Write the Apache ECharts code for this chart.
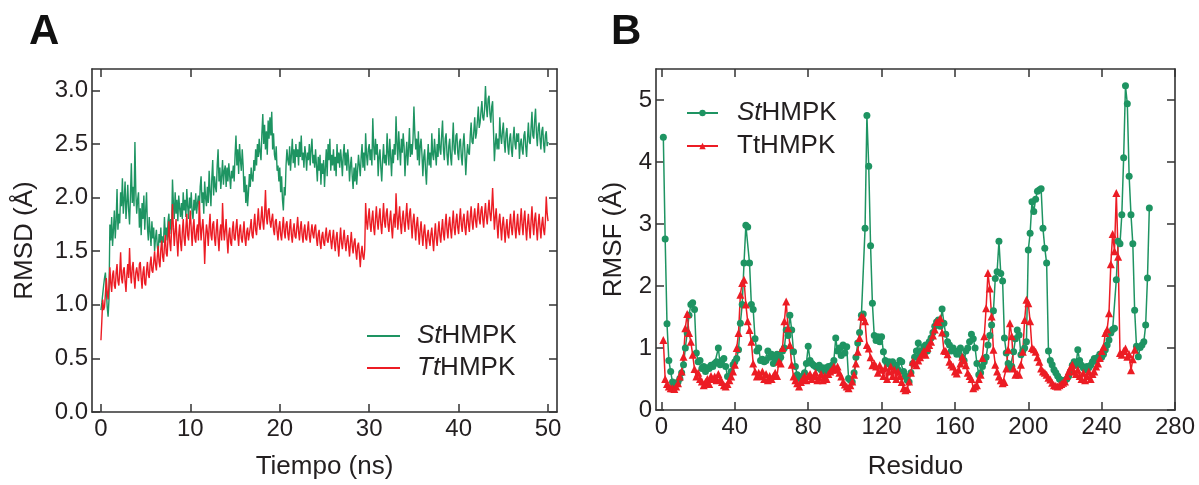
<!DOCTYPE html>
<html>
<head>
<meta charset="utf-8">
<script src="https://cdn.jsdelivr.net/npm/echarts@6/dist/echarts.min.js"></script>
<style>
html,body{margin:0;padding:0;background:#fff;}
#chart{width:1199px;height:485px;}
</style>
</head>
<body>
<div id="chart"></div>
<script>
// ---------- Panel A: RMSD vs time (sampled every 0.1 ns) ----------
const rmsdTimeStep = 0.1;
const rmsdSt = [
0.95,1.02,1.10,1.18,1.25,1.30,1.15,0.98,0.89,1.05,
1.75,1.60,1.82,1.55,1.70,1.88,1.62,1.78,2.08,1.70,
1.85,1.76,2.05,1.92,2.18,1.85,1.98,2.15,1.80,1.95,
2.12,1.88,1.75,2.02,2.32,1.95,2.10,1.92,2.52,2.05,
1.85,1.98,2.05,1.72,1.90,1.65,1.95,1.80,2.02,1.70,
1.88,2.05,1.72,1.60,1.82,1.68,1.55,1.78,1.62,1.72,
1.50,1.62,1.70,1.55,1.48,1.66,1.58,1.72,1.52,1.64,
1.58,1.82,1.65,1.72,1.60,1.78,1.85,1.66,1.80,1.70,
2.17,1.95,1.80,2.05,1.85,1.98,1.78,2.02,1.90,1.82,
1.95,1.80,2.05,1.88,1.98,1.82,2.08,1.92,1.80,2.00,
1.90,2.05,1.85,1.80,1.98,1.88,2.04,1.85,1.95,2.02,
1.88,2.10,2.20,1.95,2.05,1.85,2.15,2.00,1.92,2.10,
1.95,2.25,2.05,1.92,2.18,2.35,2.02,2.20,2.10,2.05,
2.30,2.45,2.15,2.28,2.08,2.20,2.35,2.12,2.25,2.30,
2.10,2.28,2.15,2.32,2.20,2.08,2.25,2.18,2.30,2.15,
2.40,2.58,2.30,2.45,2.22,2.50,2.35,2.25,2.45,2.30,
2.05,2.20,1.95,2.12,1.92,2.05,2.22,2.10,2.28,2.18,
2.15,2.35,2.25,2.45,2.30,2.50,2.38,2.55,2.42,2.35,
2.60,2.78,2.50,2.68,2.45,2.62,2.40,2.72,2.55,2.75,
2.58,2.80,2.45,2.60,2.40,2.35,2.48,2.25,2.30,2.15,
2.28,2.05,2.20,1.98,1.88,2.10,2.02,2.30,2.45,2.35,
2.30,2.48,2.25,2.40,2.55,2.32,2.45,2.28,2.50,2.38,
2.45,2.30,2.52,2.38,2.58,2.35,2.42,2.28,2.48,2.40,
2.25,2.42,2.35,2.50,2.30,2.45,2.55,2.32,2.40,2.28,
2.45,2.30,2.15,2.38,2.25,2.40,2.12,2.32,2.22,2.35,
2.10,2.28,2.45,2.20,2.50,2.35,2.55,2.25,2.40,2.30,
2.45,2.25,2.38,2.20,2.50,2.32,2.42,2.28,2.45,2.35,
2.20,2.40,2.50,2.30,2.42,2.25,2.45,2.35,2.15,2.30,
2.38,2.20,2.08,2.28,2.15,2.32,2.12,2.25,2.40,2.30,
2.20,2.38,2.50,2.28,2.42,2.25,2.60,2.40,2.30,2.45,
2.50,2.35,2.45,2.30,2.74,2.48,2.35,2.55,2.40,2.50,
2.20,2.38,2.45,2.28,2.15,2.35,2.50,2.32,2.40,2.30,
2.60,2.42,2.30,2.55,2.38,2.20,2.45,2.32,2.50,2.40,
2.76,2.50,2.35,2.62,2.45,2.30,2.55,2.42,2.60,2.48,
2.20,2.40,2.52,2.30,2.45,2.65,2.38,2.50,2.40,2.55,
2.85,2.60,2.45,2.55,2.35,2.62,2.30,2.48,2.55,2.40,
2.20,2.38,2.45,2.25,2.12,2.35,2.50,2.30,2.42,2.28,
2.60,2.40,2.35,2.55,2.42,2.30,2.50,2.38,2.65,2.45,
2.40,2.58,2.72,2.45,2.35,2.55,2.60,2.40,2.30,2.48,
2.55,2.38,2.30,2.50,2.70,2.45,2.40,2.58,2.60,2.42,
2.35,2.52,2.55,2.38,2.30,2.50,2.60,2.42,2.21,2.38,
2.50,2.42,2.40,2.58,2.70,2.52,2.50,2.62,2.75,2.55,
2.60,2.72,2.85,2.65,2.70,2.80,2.90,2.75,2.72,2.82,
3.04,2.85,2.75,2.92,2.95,2.78,2.70,2.85,2.90,2.62,
2.34,2.50,2.60,2.45,2.55,2.45,2.75,2.58,2.50,2.62,
2.70,2.52,2.42,2.60,2.65,2.48,2.40,2.55,2.60,2.45,
2.38,2.55,2.66,2.50,2.45,2.60,2.52,2.60,2.36,2.50,
2.55,2.45,2.40,2.58,2.62,2.48,2.38,2.55,2.70,2.52,
2.50,2.65,2.80,2.58,2.55,2.72,2.83,2.60,2.48,2.65,
2.70,2.55,2.45,2.62,2.66,2.50,2.42,2.58,2.62,2.48,
2.52
];
const rmsdTt = [
0.67,0.85,1.05,0.95,0.98,1.10,1.25,1.12,1.05,1.18,
1.35,1.20,1.12,1.28,1.32,1.18,1.15,1.30,1.38,1.22,
1.18,1.30,1.49,1.25,1.20,1.32,1.35,1.22,1.12,1.28,
1.38,1.25,1.53,1.30,1.20,1.35,1.40,1.25,1.15,1.30,
1.35,1.28,1.22,1.38,1.40,1.25,1.15,1.30,1.36,1.20,
1.18,1.32,1.40,1.28,1.25,1.38,1.45,1.32,1.30,1.40,
1.50,1.38,1.32,1.45,1.55,1.40,1.35,1.52,1.60,1.45,
1.40,1.55,1.65,1.48,1.45,1.62,1.78,1.58,1.50,1.70,
1.94,1.72,1.55,1.68,1.80,1.60,1.45,1.65,1.75,1.58,
1.50,1.68,1.80,1.62,1.55,1.72,1.85,1.65,1.60,1.75,
1.88,1.70,1.55,1.72,1.80,1.62,1.58,1.70,1.75,1.60,
1.97,1.75,1.60,1.72,1.80,1.65,1.38,1.62,1.75,1.68,
1.55,1.72,1.85,1.65,1.60,1.75,1.78,1.62,1.55,1.70,
1.80,1.62,1.50,1.68,1.75,1.60,1.95,1.72,1.60,1.70,
1.80,1.62,1.48,1.65,1.72,1.58,1.55,1.70,1.78,1.62,
1.60,1.72,1.80,1.65,1.55,1.70,1.75,1.62,1.58,1.68,
1.78,1.62,1.55,1.68,1.72,1.60,1.60,1.72,1.80,1.65,
1.62,1.75,1.85,1.70,1.65,1.78,1.90,1.75,1.70,1.80,
1.92,1.78,1.70,1.85,2.07,1.82,1.75,1.88,1.90,1.78,
1.72,1.80,1.85,1.70,1.65,1.78,1.80,1.68,1.60,1.72,
1.78,1.65,1.60,1.72,1.82,1.68,1.62,1.75,1.78,1.66,
1.60,1.72,1.80,1.65,1.58,1.70,1.76,1.64,1.62,1.72,
1.82,1.68,1.60,1.72,1.78,1.65,1.58,1.70,1.75,1.62,
1.60,1.70,1.78,1.65,1.58,1.68,1.75,1.66,1.62,1.72,
1.75,1.62,1.55,1.66,1.70,1.58,1.52,1.64,1.68,1.58,
1.55,1.65,1.72,1.60,1.58,1.66,1.70,1.60,1.52,1.62,
1.70,1.58,1.50,1.62,1.68,1.55,1.45,1.60,1.72,1.58,
1.52,1.62,1.70,1.58,1.50,1.60,1.65,1.55,1.45,1.58,
1.68,1.55,1.48,1.58,1.62,1.50,1.42,1.55,1.58,1.48,
1.35,1.48,1.55,1.45,1.42,1.52,1.95,1.78,1.70,1.82,
1.90,1.75,1.68,1.80,1.88,1.72,1.65,1.80,1.92,1.78,
1.70,1.82,1.90,1.75,1.66,1.80,1.95,1.78,1.72,1.85,
1.90,1.75,1.68,1.80,1.88,1.72,1.62,1.78,1.85,1.72,
2.04,1.85,1.70,1.82,1.92,1.75,1.66,1.80,1.88,1.76,
1.68,1.82,1.95,1.78,1.70,1.85,1.90,1.75,1.62,1.78,
1.85,1.72,1.60,1.75,1.82,1.68,1.56,1.70,1.78,1.65,
1.55,1.68,1.75,1.62,1.52,1.65,1.70,1.60,1.55,1.66,
1.72,1.60,1.50,1.65,1.76,1.62,1.55,1.68,1.78,1.65,
1.58,1.70,1.80,1.66,1.60,1.75,1.85,1.70,1.62,1.75,
1.82,1.70,1.62,1.76,1.88,1.72,1.65,1.78,1.85,1.72,
1.66,1.80,1.90,1.75,1.68,1.80,1.85,1.72,1.65,1.78,
1.88,1.75,1.68,1.82,1.92,1.78,1.70,1.82,1.90,1.78,
1.72,1.85,1.95,1.80,1.75,1.88,1.92,1.80,1.72,1.85,
1.95,1.82,1.75,1.88,1.98,1.85,1.78,1.90,2.09,1.88,
1.70,1.82,1.90,1.75,1.62,1.78,1.85,1.72,1.60,1.75,
1.82,1.70,1.58,1.72,1.80,1.66,1.62,1.75,1.85,1.72,
1.65,1.78,1.88,1.72,1.62,1.75,1.85,1.70,1.65,1.78,
1.90,1.75,1.65,1.80,1.88,1.72,1.60,1.75,1.85,1.72,
1.62,1.78,1.92,1.75,1.65,1.80,1.86,1.72,1.60,1.75,
1.85,1.72,1.62,1.75,1.82,1.70,1.65,1.78,2.01,1.85,
1.78
];
const rmsdXTicks = [0, 10, 20, 30, 40, 50];
const rmsdYTicks = [0, 0.5, 1, 1.5, 2, 2.5, 3];

// ---------- Panel B: RMSF per residue (first residue = 1) ----------
const rmsfSt = [
4.40,2.76,1.39,0.80,0.62,0.45,0.38,0.43,0.45,0.51,
0.60,0.73,1.00,1.24,1.53,1.70,1.73,1.62,0.92,0.78,
0.80,0.67,0.70,0.62,0.68,0.67,0.72,0.70,0.75,0.78,
1.00,0.73,0.80,0.83,0.70,0.54,0.55,0.62,0.73,0.78,
0.83,0.97,1.40,1.70,2.37,2.98,2.95,2.37,1.70,1.62,
1.15,0.95,1.00,0.80,0.82,0.78,0.80,0.95,0.85,0.90,
0.75,0.82,0.90,0.80,0.85,0.95,1.00,1.29,1.20,1.53,
1.29,0.94,0.70,0.57,0.52,0.50,0.55,0.60,0.75,1.03,
0.80,0.75,0.72,0.70,0.68,0.72,0.65,0.68,0.62,0.68,
0.70,0.65,0.72,0.80,1.16,0.95,1.00,0.88,1.05,0.92,
1.02,0.51,0.48,0.45,0.60,0.85,1.08,1.25,1.53,1.55,
2.93,4.75,3.93,2.65,1.72,1.20,1.12,1.18,1.10,1.18,
0.94,0.80,0.75,0.78,0.72,0.78,0.70,0.72,0.65,0.80,
0.78,0.62,0.55,0.48,0.45,0.60,0.75,0.85,0.95,1.08,
0.90,0.95,1.02,1.05,0.95,1.10,1.16,1.25,1.35,1.42,
1.45,1.35,1.63,1.40,1.22,1.10,1.05,0.95,1.00,0.95,
0.90,0.95,1.00,0.85,0.80,0.95,1.00,1.10,1.22,1.15,
1.00,0.75,0.57,0.60,0.70,0.78,0.85,1.05,1.20,1.37,
1.60,2.12,2.23,2.72,2.20,2.08,1.16,0.92,0.75,0.67,
0.70,0.94,1.15,1.29,1.21,0.89,0.95,1.00,1.10,2.58,
2.85,3.36,3.20,3.40,3.53,3.55,3.57,2.93,2.61,2.37,
0.95,0.80,0.73,0.65,0.60,0.55,0.50,0.48,0.46,0.48,
0.50,0.55,0.62,0.72,0.78,0.72,0.97,0.80,0.72,0.68,
0.65,0.70,0.68,0.72,0.78,0.83,0.80,0.85,0.90,0.85,
0.90,0.97,1.05,1.13,1.24,1.30,1.32,2.10,2.72,2.68,
3.15,4.07,5.23,4.94,3.77,3.15,2.68,1.61,1.03,0.86,
1.01,1.05,1.10,1.37,2.13,3.26
];
const rmsfTt = [
1.13,0.50,0.42,0.38,0.35,0.35,0.34,0.38,0.43,0.54,
0.62,0.86,1.32,1.55,1.24,1.10,0.89,0.66,0.54,0.60,
0.50,0.46,0.40,0.45,0.50,0.42,0.55,0.50,0.54,0.48,
0.58,0.50,0.45,0.40,0.38,0.42,0.48,0.54,0.62,0.73,
1.00,1.24,1.86,2.05,2.10,1.70,1.43,1.29,1.10,0.75,
0.62,0.54,0.60,0.55,0.62,0.50,0.58,0.48,0.55,0.50,
0.55,0.60,0.55,0.78,0.75,1.00,1.43,1.75,1.32,1.05,
0.73,0.54,0.48,0.43,0.38,0.45,0.50,0.55,0.48,0.55,
0.58,0.50,0.55,0.60,0.48,0.52,0.58,0.48,0.55,0.50,
0.58,0.62,0.65,0.70,0.65,0.70,0.60,0.54,0.45,0.41,
0.38,0.35,0.40,0.46,0.57,0.75,0.94,1.16,1.51,1.50,
1.43,1.05,0.99,0.85,0.72,0.75,0.70,0.60,0.72,0.65,
0.55,0.68,0.50,0.62,0.70,0.55,0.65,0.50,0.62,0.55,
0.45,0.35,0.32,0.34,0.46,0.60,0.78,0.75,0.72,0.80,
0.85,0.90,0.95,0.89,1.00,1.05,1.10,1.20,1.30,1.42,
1.42,1.48,1.25,0.96,0.95,0.90,0.78,0.73,0.70,0.62,
0.59,0.65,0.75,0.86,0.80,0.72,0.60,0.55,0.50,0.35,
0.38,0.40,0.50,0.57,0.84,1.19,1.64,2.21,1.96,1.51,
0.97,0.73,0.62,0.54,0.48,0.43,0.45,0.67,0.97,1.40,
1.19,0.67,0.57,0.58,0.57,0.73,0.94,1.45,1.78,1.72,
1.43,1.00,0.98,0.94,0.85,0.78,0.67,0.62,0.60,0.57,
0.52,0.49,0.44,0.40,0.39,0.38,0.40,0.42,0.44,0.46,
0.55,0.62,0.68,0.73,0.62,0.58,0.65,0.55,0.50,0.60,
0.48,0.55,0.62,0.50,0.58,0.62,0.70,0.75,0.84,0.95,
1.02,1.24,1.30,1.56,2.35,2.84,2.56,3.50,2.47,0.92,
0.89,0.95,0.99,0.86,0.90,0.64,0.82,0.97
];
const rmsfXTicks = [0, 40, 80, 120, 160, 200, 240, 280];
const rmsfYTicks = [0, 1, 2, 3, 4, 5];

// ---------- build ----------
const FONT = "'Liberation Sans', Arial, sans-serif";
const TXT = '#231f20';
const AX = '#333333';
const GREEN = '#1e9462';
const RED = '#ec1c24';

const toTimePairs = arr => arr.map((v, i) => [+(i * rmsdTimeStep).toFixed(2), v]);
const toResPairs = arr => arr.map((v, i) => [i + 1, v]);

function xAx(grid, pos, min, max, ticks, showLabel, fmt, name, nameGap) {
  return {
    type: 'value', gridIndex: grid, position: pos, min: min, max: max,
    splitLine: { show: false },
    axisLine: { show: true, onZero: false, lineStyle: { color: AX, width: 1.6 } },
    axisTick: { show: true, inside: true, length: 8, customValues: ticks, lineStyle: { color: AX, width: 1.5 } },
    axisLabel: { show: showLabel, customValues: ticks, formatter: fmt, margin: 5,
      fontSize: 24, color: TXT, fontFamily: FONT },
    name: name || '', nameLocation: 'middle', nameGap: nameGap || 0,
    nameTextStyle: { fontSize: 26, color: TXT, fontFamily: FONT }
  };
}
function yAx(grid, pos, min, max, ticks, showLabel, fmt, name, nameGap) {
  return {
    type: 'value', gridIndex: grid, position: pos, min: min, max: max,
    splitLine: { show: false },
    axisLine: { show: true, onZero: false, lineStyle: { color: AX, width: 1.6 } },
    axisTick: { show: true, inside: true, length: 8, customValues: ticks, lineStyle: { color: AX, width: 1.5 } },
    axisLabel: { show: showLabel, customValues: ticks, formatter: fmt, margin: 4,
      fontSize: 24, color: TXT, fontFamily: FONT },
    name: name || '', nameLocation: 'middle', nameGap: nameGap || 0, nameRotate: 90,
    nameTextStyle: { fontSize: 26, color: TXT, fontFamily: FONT }
  };
}

const richLegend = {
  p: { width: 12 },
  pb: { width: 14 },
  i: { fontStyle: 'italic', fontSize: 26, fontFamily: FONT, color: TXT },
  n: { fontSize: 26, fontFamily: FONT, color: TXT }
};
const legendText = {
  'A_St': '{p|}{i|St}{n|HMPK}',
  'A_Tt': '{p|}{i|Tt}{n|HMPK}',
  'B_St': '{pb|}{i|St}{n|HMPK}',
  'B_Tt': '{pb|}{n|TtHMPK}'
};

const chart = echarts.init(document.getElementById('chart'), null, { renderer: 'canvas' });
chart.setOption({
  animation: false,
  backgroundColor: '#ffffff',
  title: [
    { text: 'A', left: 29, top: 11, padding: 0,
      textStyle: { fontSize: 42, fontWeight: 'bold', color: '#111', fontFamily: FONT } },
    { text: 'B', left: 611, top: 11, padding: 0,
      textStyle: { fontSize: 42, fontWeight: 'bold', color: '#111', fontFamily: FONT } }
  ],
  grid: [
    { left: 92, right: 642, top: 69, bottom: 72 },
    { left: 656, right: 24, top: 69, bottom: 74 }
  ],
  legend: [
    { data: [{ name: 'A_St', icon: 'rect' }, { name: 'A_Tt', icon: 'rect' }],
      orient: 'vertical', left: 367, top: 321, padding: 0,
      itemWidth: 33, itemHeight: 2, itemGap: 2, selectedMode: false,
      formatter: n => legendText[n],
      textStyle: { fontSize: 26, lineHeight: 30, color: TXT, fontFamily: FONT, rich: richLegend } },
    { data: ['B_St', 'B_Tt'], orient: 'vertical', left: 686, top: 98, padding: 0,
      itemWidth: 31, itemHeight: 8, itemGap: 3, selectedMode: false,
      lineStyle: { width: 2 },
      formatter: n => legendText[n],
      textStyle: { fontSize: 26, lineHeight: 30, color: TXT, fontFamily: FONT, rich: richLegend } }
  ],
  xAxis: [
    xAx(0, 'bottom', -1, 51, rmsdXTicks, true, v => String(v), 'Tiempo (ns)', 42),
    xAx(0, 'top', -1, 51, rmsdXTicks, false),
    xAx(1, 'bottom', -3, 280, rmsfXTicks, true, v => String(v), 'Residuo', 44),
    xAx(1, 'top', -3, 280, rmsfXTicks, false)
  ],
  yAxis: [
    yAx(0, 'left', 0, 3.2, rmsdYTicks, true, v => v.toFixed(1), 'RMSD (Å)', 54),
    yAx(0, 'right', 0, 3.2, rmsdYTicks, false),
    yAx(1, 'left', 0, 5.5, rmsfYTicks, true, v => String(v), 'RMSF (Å)', 29),
    yAx(1, 'right', 0, 5.5, rmsfYTicks, false)
  ],
  series: [
    { name: 'A_St', type: 'line', xAxisIndex: 0, yAxisIndex: 0, data: toTimePairs(rmsdSt),
      symbol: 'none', color: GREEN, itemStyle: { color: GREEN }, lineStyle: { color: GREEN, width: 1.4 } },
    { name: 'A_Tt', type: 'line', xAxisIndex: 0, yAxisIndex: 0, data: toTimePairs(rmsdTt),
      symbol: 'none', color: RED, itemStyle: { color: RED }, lineStyle: { color: RED, width: 1.4 } },
    { name: 'B_St', type: 'line', xAxisIndex: 2, yAxisIndex: 2, data: toResPairs(rmsfSt),
      symbol: 'circle', symbolSize: 7, color: GREEN,
      itemStyle: { color: GREEN }, lineStyle: { color: GREEN, width: 1.5 } },
    { name: 'B_Tt', type: 'line', xAxisIndex: 2, yAxisIndex: 2, data: toResPairs(rmsfTt),
      symbol: 'triangle', symbolSize: 8, color: RED,
      itemStyle: { color: RED }, lineStyle: { color: RED, width: 1.5 } }
  ]
});
</script>
</body>
</html>
